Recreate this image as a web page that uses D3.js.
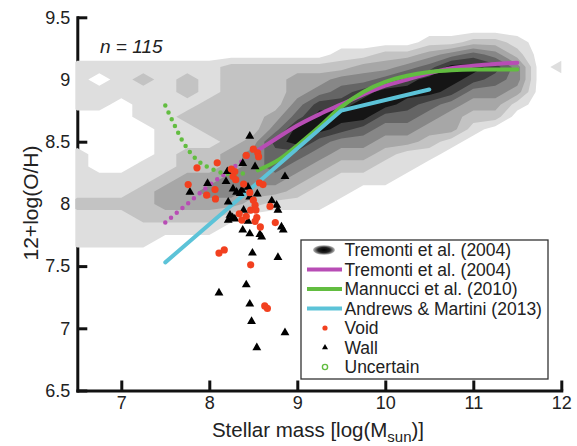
<!DOCTYPE html>
<html>
<head>
<meta charset="utf-8">
<script src="https://cdn.jsdelivr.net/npm/d3@7"></script>
<style>
    body { margin: 0; background: #fff; }
    text { font-family: "Liberation Sans", Arial, Helvetica, sans-serif; fill: #222; }
</style>
</head>
<body>
<svg id="chart" width="577" height="446"></svg>
<script>
// axis ticks
const massTicks = [7, 8, 9, 10, 11, 12];
const ohTicks = [6.5, 7, 7.5, 8, 8.5, 9, 9.5];

const gridMass = [6.5, 6.75, 7, 7.25, 7.5, 7.75, 8, 8.25, 8.5, 8.75, 9, 9.25, 9.5, 9.75, 10, 10.25, 10.5, 10.75, 11, 11.25, 11.5, 11.75, 12];
const gridOH = [9.4, 9.3, 9.2, 9.1, 9.0, 8.9, 8.8, 8.7, 8.6, 8.5, 8.4, 8.3, 8.2, 8.1, 8.0, 7.9, 7.8, 7.7, 7.6, 7.5];
const densityRows = [
    "00000000000000000000000",
    "00000000000000001122100",
    "00000000000011223454200",
    "11111112222223345776401",
    "10121212223344567765400",
    "11111212223456777644300",
    "11011122224667765433100",
    "00011222235777554322000",
    "00001122247765443310000",
    "00001112367544332100000",
    "10001223455433211000000",
    "10011223454322110000000",
    "11112334443211100000000",
    "11123344332110000000000",
    "22223333211100000000000",
    "11122221000000000000000",
    "11111110000000000000000",
    "11110000000000000000000",
    "00000000000000000000000",
    "00000000000000000000000"
];
const levelColors = ["#dedede", "#c3c3c3", "#a7a7a7", "#878787", "#656565", "#404040", "#151515"];

// fits
const tremontiDotted = [[7.5, 7.85], [7.75, 8.0], [8.0, 8.15], [8.25, 8.28], [8.5, 8.41]];
const tremontiSolid = [[8.55, 8.43], [8.75, 8.52], [9.0, 8.63], [9.25, 8.72], [9.5, 8.80], [9.75, 8.88],
    [10.0, 8.95], [10.25, 9.0], [10.5, 9.05], [10.75, 9.09], [11.0, 9.11], [11.25, 9.125], [11.5, 9.135]];
const mannucciDotted = [[7.5, 8.79], [7.6, 8.64], [7.7, 8.5], [7.85, 8.36], [8.0, 8.29], [8.25, 8.24], [8.45, 8.25]];
const mannucciSolid = [[8.55, 8.27], [8.8, 8.36], [9.0, 8.47], [9.25, 8.62], [9.5, 8.78], [9.75, 8.90],
    [10.0, 8.98], [10.25, 9.03], [10.5, 9.06], [10.75, 9.075], [11.0, 9.08], [11.5, 9.08]];
const andrewsMartini = [[7.5, 7.53], [9.5, 8.75], [10.5, 8.92]];

// galaxies
const voidPts = [[7.86, 8.29], [8.09, 8.33], [7.76, 8.155], [8.065, 8.115], [7.97, 8.07], [8.07, 8.04],
    [8.42, 8.39], [8.50, 8.44], [8.55, 8.41], [8.56, 8.38], [8.25, 8.28], [8.29, 8.26], [8.27, 8.22],
    [8.30, 8.195], [8.39, 8.16], [8.57, 8.17], [8.61, 8.155], [8.46, 8.09], [8.50, 8.03], [8.52, 7.99],
    [8.47, 7.95], [8.53, 7.95], [8.34, 7.92], [8.42, 7.90], [8.37, 7.87], [8.54, 7.89], [8.52, 7.86],
    [8.58, 7.815], [8.75, 7.85], [8.69, 7.98], [8.11, 7.605], [8.17, 7.63], [8.47, 7.51], [8.63, 7.18], [8.66, 7.16]];
const wallPts = [[8.46, 8.545], [8.38, 8.325], [8.52, 8.30], [8.205, 8.26], [8.19, 8.18], [7.98, 8.165],
    [7.78, 8.095], [8.27, 8.12], [8.31, 8.095], [8.37, 8.11], [8.44, 8.135], [8.35, 8.085], [8.46, 8.055],
    [8.545, 8.08], [8.215, 8.015], [8.71, 8.025], [8.765, 7.99], [8.78, 7.95], [8.39, 7.95], [8.235, 7.91],
    [8.29, 7.88], [8.265, 7.89], [8.215, 7.87], [8.44, 7.86], [8.38, 7.79], [8.46, 7.76], [8.575, 7.755],
    [8.595, 7.735], [8.82, 7.815], [8.84, 7.79], [8.86, 8.22], [8.49, 7.605], [8.78, 7.57], [8.42, 7.35],
    [8.11, 7.285], [8.46, 7.195], [8.48, 7.055], [8.86, 6.965], [8.54, 6.845]];

const legendLabels = ["Tremonti et al. (2004)", "Tremonti et al. (2004)", "Mannucci et al. (2010)",
    "Andrews & Martini (2013)", "Void", "Wall", "Uncertain"];

const magenta = "#b84db5", green = "#62bd40", cyan = "#5cc3d8", red = "#f2401f";

const svg = d3.select("#chart");
const x = d3.scaleLinear().domain([6.5, 12]).range([77.3, 561.3]);
const y = d3.scaleLinear().domain([6.5, 9.5]).range([390.5, 17.3]);

// axes (drawn under the density, which hides them where it is gray)
let xAxis = svg.append("g")
    .attr("transform", "translate(0," + y(6.5) + ")")
    .call(d3.axisBottom(x).tickValues(massTicks).tickSizeInner(-10).tickSizeOuter(0).tickPadding(6)
        .tickFormat(d3.format("")));
let yAxis = svg.append("g")
    .attr("transform", "translate(" + x(6.5) + ",0)")
    .call(d3.axisLeft(y).tickValues(ohTicks).tickSizeInner(-10).tickSizeOuter(0).tickPadding(7)
        .tickFormat(d3.format("")));
[xAxis, yAxis].forEach(function (a) {
    a.select(".domain").attr("stroke", "#111").attr("stroke-width", 3).attr("stroke-linecap", "square");
    a.selectAll(".tick line").attr("stroke", "#111").attr("stroke-width", 3);
    a.selectAll(".tick text").style("font-size", "18px").attr("fill", "#333");
});

svg.append("clipPath").attr("id", "plotClip")
    .append("rect")
    .attr("x", x(6.5) - 2).attr("y", y(9.5))
    .attr("width", x(12) - x(6.5) + 2).attr("height", y(6.5) - y(9.5));

// density contours
const gx = d3.scaleLinear().domain([0.5, gridMass.length - 0.5]).range([gridMass[0], gridMass[gridMass.length - 1]]);
const gy = d3.scaleLinear().domain([0.5, gridOH.length - 0.5]).range([gridOH[0], gridOH[gridOH.length - 1]]);
const values = densityRows.flatMap(r => r.split("").map(Number));
const bands = d3.contours()
    .size([gridMass.length, gridOH.length])
    .thresholds(levelColors.map((c, i) => i + 0.5))(values);
const proj = d3.geoTransform({
    point: function (px, py) { this.stream.point(x(gx(px)), y(gy(py))); }
});
svg.append("g").attr("clip-path", "url(#plotClip)")
    .selectAll("path")
    .data(bands)
    .enter().append("path")
    .attr("d", d3.geoPath(proj))
    .attr("fill", (d, i) => levelColors[i]);

// fit lines
const line = d3.line().x(d => x(d[0])).y(d => y(d[1])).curve(d3.curveMonotoneX);
const fits = svg.append("g").attr("fill", "none").attr("stroke-linecap", "round");
fits.append("path").attr("d", line(tremontiDotted)).attr("stroke", magenta)
    .attr("stroke-width", 4.5).attr("stroke-dasharray", "0 7.5");
fits.append("path").attr("d", line(mannucciDotted)).attr("stroke", green)
    .attr("stroke-width", 4.5).attr("stroke-dasharray", "0 7.5");
fits.append("path").attr("d", line(tremontiSolid)).attr("stroke", magenta).attr("stroke-width", 4);
fits.append("path").attr("d", line(mannucciSolid)).attr("stroke", green).attr("stroke-width", 4);
fits.append("path").attr("d", d3.line().x(d => x(d[0])).y(d => y(d[1]))(andrewsMartini))
    .attr("stroke", cyan).attr("stroke-width", 4);

// points
svg.append("g").selectAll("path")
    .data(wallPts)
    .enter().append("path")
    .attr("d", d3.symbol(d3.symbolTriangle).size(34))
    .attr("transform", d => "translate(" + x(d[0]) + "," + y(d[1]) + ")")
    .attr("fill", "#000");
svg.append("g").selectAll("circle")
    .data(voidPts)
    .enter().append("circle")
    .attr("cx", d => x(d[0]))
    .attr("cy", d => y(d[1]))
    .attr("r", 3.6)
    .attr("fill", red);

// n label
svg.append("text")
    .attr("x", 100).attr("y", 53)
    .style("font-size", "19px").style("font-style", "italic")
    .text("n = 115");

// axis titles
let xt = svg.append("text")
    .attr("x", 318).attr("y", 437)
    .attr("text-anchor", "middle")
    .style("font-size", "20.5px").attr("fill", "#333");
xt.append("tspan").text("Stellar mass [log(M");
xt.append("tspan").attr("dy", 5).style("font-size", "15px").text("sun");
xt.append("tspan").attr("dy", -5).text(")]");

svg.append("text")
    .attr("transform", "translate(38,203) rotate(-90)")
    .attr("text-anchor", "middle")
    .style("font-size", "21px").attr("fill", "#333")
    .text("12+log(O/H)");

// legend
const lg = svg.append("g");
lg.append("rect")
    .attr("x", 301).attr("y", 240).attr("width", 247).attr("height", 139)
    .attr("fill", "#fff").attr("stroke", "#333").attr("stroke-width", 1.3);
const grad = svg.append("defs").append("radialGradient").attr("id", "blob");
grad.append("stop").attr("offset", "0%").attr("stop-color", "#000");
grad.append("stop").attr("offset", "55%").attr("stop-color", "#222");
grad.append("stop").attr("offset", "100%").attr("stop-color", "#bbb");

const rowY = i => 250 + i * 19.5;
lg.append("ellipse").attr("cx", 324).attr("cy", rowY(0)).attr("rx", 11).attr("ry", 4.8).attr("fill", "url(#blob)");
[magenta, green, cyan].forEach(function (c, i) {
    lg.append("line")
        .attr("x1", 307).attr("x2", 342)
        .attr("y1", rowY(i + 1)).attr("y2", rowY(i + 1))
        .attr("stroke", c).attr("stroke-width", 4);
});
lg.append("circle").attr("cx", 325).attr("cy", rowY(4)).attr("r", 2.6).attr("fill", red);
lg.append("path").attr("d", d3.symbol(d3.symbolTriangle).size(16))
    .attr("transform", "translate(325," + rowY(5) + ")").attr("fill", "#000");
lg.append("circle").attr("cx", 325).attr("cy", rowY(6)).attr("r", 2.6)
    .attr("fill", "none").attr("stroke", green).attr("stroke-width", 1.4);
lg.selectAll("text")
    .data(legendLabels)
    .enter().append("text")
    .attr("x", 344.5)
    .attr("y", (d, i) => rowY(i))
    .attr("dy", "0.35em")
    .style("font-size", "17.5px")
    .text(d => d);
</script>
</body>
</html>
